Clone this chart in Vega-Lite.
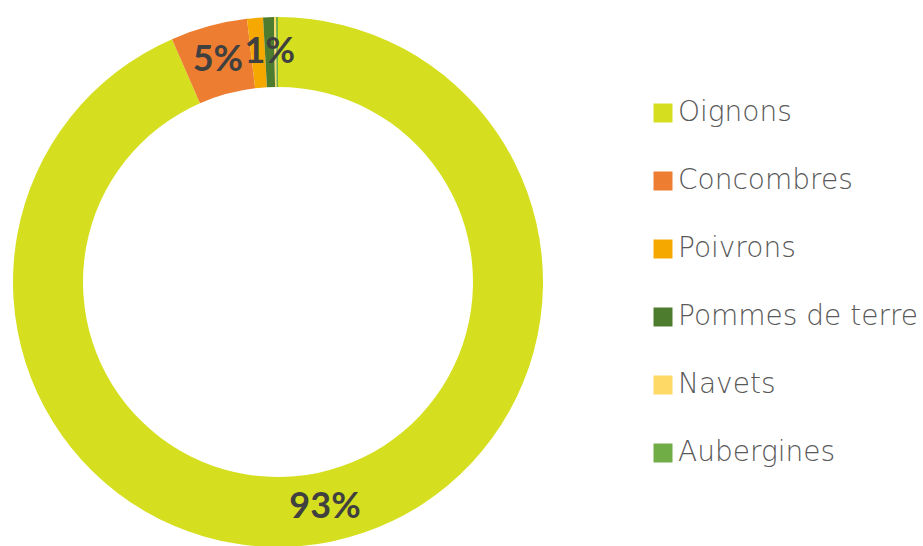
{
  "$schema": "https://vega.github.io/schema/vega-lite/v6.json",
  "width": 556,
  "height": 528,
  "autosize": {"type": "none"},
  "padding": {"left": 0, "top": 18, "right": 367, "bottom": 0},
  "background": "white",
  "config": {"view": {"stroke": null}},
  "data": {
    "values": [
      {"rang": 1, "legume": "Oignons", "part": 93.45, "etiquette": "93%"},
      {"rang": 2, "legume": "Concombres", "part": 4.68, "etiquette": "5%"},
      {"rang": 3, "legume": "Poivrons", "part": 0.97, "etiquette": ""},
      {"rang": 4, "legume": "Pommes de terre", "part": 0.66, "etiquette": "1%"},
      {"rang": 5, "legume": "Navets", "part": 0.12, "etiquette": ""},
      {"rang": 6, "legume": "Aubergines", "part": 0.12, "etiquette": ""}
    ]
  },
  "encoding": {
    "theta": {"field": "part", "type": "quantitative", "stack": true},
    "order": {"field": "rang", "type": "quantitative"}
  },
  "layer": [
    {
      "mark": {"type": "arc", "outerRadius": 265, "innerRadius": 195},
      "encoding": {
        "color": {
          "field": "legume",
          "type": "nominal",
          "scale": {
            "domain": ["Oignons", "Concombres", "Poivrons", "Pommes de terre", "Navets", "Aubergines"],
            "range": ["#D5DF1F", "#ED7D31", "#F5A800", "#4E7C2E", "#FFD966", "#70AD47"]
          },
          "legend": {
            "title": null,
            "orient": "none",
            "legendX": 649,
            "legendY": 81,
            "padding": 0,
            "symbolType": "square",
            "symbolSize": 361,
            "symbolStrokeWidth": 0,
            "symbolOpacity": 1,
            "labelFont": "DejaVu Sans",
            "labelFontSize": 28,
            "labelFontWeight": 300,
            "labelColor": "#595959",
            "labelOffset": 1,
            "labelLimit": 400,
            "rowPadding": 40
          }
        }
      }
    },
    {
      "mark": {"type": "text", "radius": 230, "font": "Lato", "fontWeight": "bold", "fontSize": 36, "color": "#404040", "baseline": "middle", "align": "center"},
      "encoding": {
        "text": {"field": "etiquette", "type": "nominal"}
      }
    }
  ]
}
